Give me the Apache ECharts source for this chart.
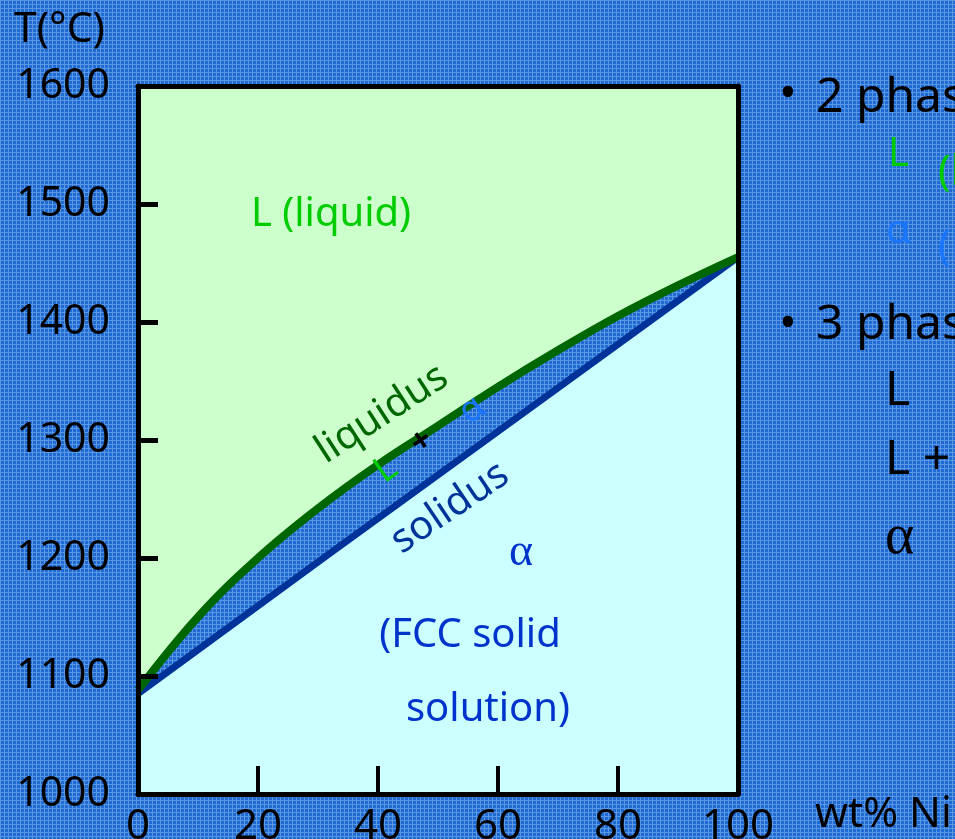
<!DOCTYPE html>
<html>
<head>
<meta charset="utf-8">
<script src="https://cdn.jsdelivr.net/npm/echarts@6/dist/echarts.min.js"></script>
<style>
  html, body { margin: 0; padding: 0; background: #397eda; }
  #chart { width: 955px; height: 839px; }
</style>
</head>
<body>
<div id="chart"></div>
<script>
// ---- data ----
const wtNi = [0, 10, 20, 30, 40, 50, 60, 70, 80, 90, 100];
const liquidusT = [1088, 1150, 1200, 1242, 1279, 1312, 1345, 1376, 1405, 1431, 1455];
const solidusWt = [0, 32, 64, 100];
const solidusT = [1085, 1204, 1322, 1455];
const xTickLabels = ['0', '20', '40', '60', '80', '100'];
const yTickLabels = ['1000', '1100', '1200', '1300', '1400', '1500', '1600'];

// background texture
const pat = document.createElement('canvas');
pat.width = 4; pat.height = 4;
const pc = pat.getContext('2d');
pc.fillStyle = '#1f6ad3'; pc.fillRect(0, 0, 4, 4);
pc.fillStyle = '#5b98e4'; pc.fillRect(0, 0, 4, 1); pc.fillRect(0, 0, 1, 4);

const SANS = '"Noto Sans", "Open Sans", sans-serif';
const SERIF = '"Liberation Serif", "DejaVu Serif", serif';

function txt(text, x, y, size, color, opts) {
  opts = opts || {};
  return {
    type: 'text', x: x, y: y, z: 100,
    rotation: opts.rot || 0,
    style: {
      text: text, x: 0, y: 0,
      fill: color,
      font: (opts.weight || 'normal') + ' ' + size + 'px ' + (opts.family || SANS),
      textAlign: opts.align || 'center',
      textVerticalAlign: 'middle'
    }
  };
}
const deg = d => d * Math.PI / 180;

const chart = echarts.init(document.getElementById('chart'));
chart.setOption({
  backgroundColor: { image: pat, repeat: 'repeat' },
  animation: false,
  grid: { left: 138, right: 217, top: 86, bottom: 45, containLabel: false, outerBoundsMode: 'none' },
  xAxis: [{
    type: 'value', min: 0, max: 100, interval: 20, z: 10,
    axisLine: { show: true, onZero: false, lineStyle: { color: '#000', width: 5 } },
    axisTick: { show: true, inside: true, length: 28, lineStyle: { color: '#000', width: 4 } },
    axisLabel: { color: '#000', fontSize: 42, fontFamily: SANS, margin: 12,
      formatter: v => xTickLabels[Math.round(v / 20)] },
    splitLine: { show: false }
  }, {
    type: 'value', position: 'top', min: 0, max: 100, z: 10,
    axisLine: { show: true, onZero: false, lineStyle: { color: '#000', width: 5 } },
    axisTick: { show: false }, axisLabel: { show: false }, splitLine: { show: false }
  }],
  yAxis: [{
    type: 'value', min: 1000, max: 1600, interval: 100, z: 10,
    axisLine: { show: true, onZero: false, lineStyle: { color: '#000', width: 5 } },
    axisTick: { show: true, inside: true, length: 20, lineStyle: { color: '#000', width: 5 } },
    axisLabel: { color: '#000', fontSize: 41, fontFamily: SANS, margin: 28,
      formatter: v => yTickLabels[Math.round((v - 1000) / 100)] },
    splitLine: { show: false }
  }, {
    type: 'value', position: 'right', min: 1000, max: 1600, z: 10,
    axisLine: { show: true, onZero: false, lineStyle: { color: '#000', width: 5 } },
    axisTick: { show: false }, axisLabel: { show: false }, splitLine: { show: false }
  }],
  series: [{
    name: 'solidus', type: 'line', z: 3,
    data: solidusWt.map((w, i) => [w, solidusT[i]]),
    symbol: 'none', smooth: false,
    lineStyle: { color: '#003399', width: 7 },
    areaStyle: { color: '#ccffff', opacity: 1, origin: 'start' }
  }, {
    name: 'liquidus', type: 'line', z: 4,
    data: wtNi.map((w, i) => [w, liquidusT[i]]),
    symbol: 'none', smooth: 0.4,
    lineStyle: { color: '#006600', width: 8 },
    areaStyle: { color: '#ccffcc', opacity: 1, origin: 'end' }
  }],
  graphic: [
    txt('T(°C)', 14, 30, 41, '#000', { align: 'left' }),
    txt('wt% Ni', 815, 815, 42, '#000', { align: 'left' }),
    txt('L (liquid)', 331, 215, 40, '#00cc00'),
    txt('liquidus', 382, 414, 40, '#006600', { rot: deg(33) }),
    txt('solidus', 450, 508, 40, '#003399', { rot: deg(34) }),
    txt('L', 386, 470, 36, '#00cc00', { rot: deg(35) }),
    txt('+', 422, 442, 34, '#000', { rot: deg(35), weight: 'bold' }),
    txt('α', 472, 410, 36, '#1a75ff', { rot: deg(35) }),
    txt('α', 521, 553, 46, '#0033cc', { family: SERIF }),
    txt('(FCC solid', 470, 636, 40, '#0033cc'),
    txt('solution)', 488, 710, 40, '#0033cc'),
    // right-side bullet text (clipped by the image edge)
    txt('•', 788, 95, 46, '#000'),
    txt('2 phases:', 816, 98, 48, '#000', { align: 'left' }),
    txt('L', 888, 155, 40, '#00cc00', { align: 'left' }),
    txt('(liquid)', 938, 173, 42, '#00cc00', { align: 'left' }),
    txt('α', 886, 232, 40, '#1a75ff', { align: 'left' }),
    txt('(FCC solid solution)', 938, 248, 42, '#1a75ff', { align: 'left' }),
    txt('•', 788, 325, 46, '#000'),
    txt('3 phase fields:', 816, 325, 48, '#000', { align: 'left' }),
    txt('L', 885, 391, 48, '#000', { align: 'left' }),
    txt('L + α', 885, 460, 48, '#000', { align: 'left' }),
    txt('α', 885, 538, 56, '#000', { align: 'left', family: SERIF })
  ]
});
</script>
</body>
</html>
